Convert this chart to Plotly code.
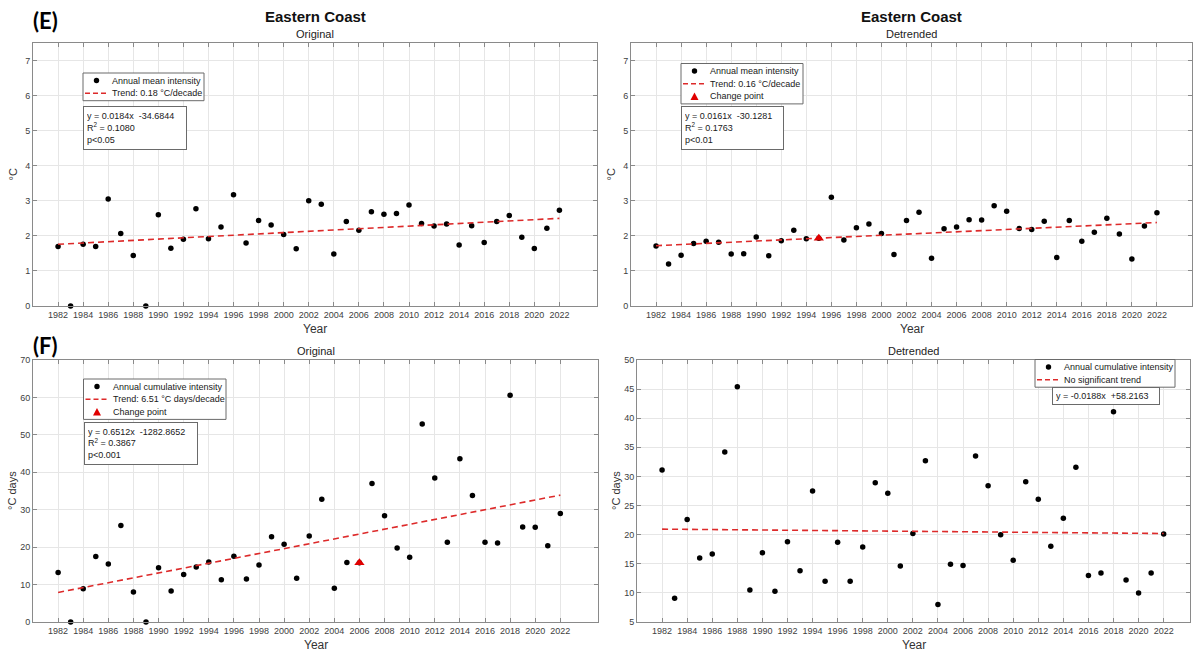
import plotly.graph_objects as go

# ---------------- data ----------------
years = list(range(1982, 2023))

mean_orig = [1.70, 0.00, 1.76, 1.70, 3.05, 2.07, 1.44, 0.00, 2.60, 1.65,
             1.90, 2.77, 1.92, 2.25, 3.17, 1.80, 2.44, 2.31, 2.04, 1.63,
             3.00, 2.90, 1.48, 2.41, 2.16, 2.69, 2.62, 2.64, 2.88, 2.35,
             2.28, 2.34, 1.74, 2.29, 1.81, 2.41, 2.58, 1.96, 1.64, 2.22, 2.73]

mean_detr = [1.71, 1.20, 1.45, 1.78, 1.85, 1.82, 1.48, 1.49, 1.97, 1.43,
             1.86, 2.16, 1.92, 1.93, 3.10, 1.88, 2.23, 2.34, 2.07, 1.47,
             2.44, 2.67, 1.36, 2.20, 2.25, 2.46, 2.45, 2.86, 2.70, 2.21,
             2.18, 2.42, 1.38, 2.44, 1.85, 2.10, 2.50, 2.05, 1.34, 2.28, 2.66]

cum_orig = [13.2, 0.0, 8.9, 17.5, 15.5, 25.8, 8.0, 0.0, 14.5, 8.3,
            12.7, 14.7, 16.0, 11.3, 17.6, 11.5, 15.2, 22.8, 20.8, 11.7,
            23.0, 32.8, 9.0, 15.9, 15.8, 37.0, 28.4, 19.8, 17.3, 52.9,
            38.5, 21.3, 43.6, 33.8, 21.3, 21.1, 60.6, 25.4, 25.3, 20.4, 29.0]

cum_detr = [31.1, 9.1, 22.6, 16.0, 16.7, 34.2, 45.4, 10.5, 16.9, 10.3,
            18.8, 13.8, 27.5, 12.0, 18.7, 12.0, 17.9, 28.9, 27.1, 14.6,
            20.2, 32.7, 8.0, 14.9, 14.7, 33.5, 28.4, 20.0, 15.6, 29.1,
            26.1, 18.0, 22.8, 31.6, 13.0, 13.4, 41.1, 12.2, 10.0, 13.4, 20.1]

# fitted trend lines (values at first and last year)
trend_years = [1982, 2022]
trend_mean_orig = [1.76, 2.50]
trend_mean_detr = [1.72, 2.38]
trend_cum_orig = [7.9, 33.9]
trend_cum_detr = [20.95, 20.20]

# change points
cp_mean_detr = (1995, 1.93)
cp_cum_orig = (2006, 15.8)

x_ticks = list(range(1982, 2023, 2))
y_ticks_mean = list(range(0, 8))
y_ticks_cum_orig = list(range(0, 71, 10))
y_ticks_cum_detr = list(range(5, 51, 5))

legend_names = {
    "mean_orig": ["Annual mean intensity", "Trend: 0.18 °C/decade"],
    "mean_detr": ["Annual mean intensity", "Trend: 0.16 °C/decade", "Change point"],
    "cum_orig": ["Annual cumulative intensity", "Trend: 6.51 °C days/decade", "Change point"],
    "cum_detr": ["Annual cumulative intensity", "No significant trend"],
}
stats_text = {
    "mean_orig": "y = 0.0184x  -34.6844<br>R<sup>2</sup> = 0.1080<br>p&lt;0.05",
    "mean_detr": "y = 0.0161x  -30.1281<br>R<sup>2</sup> = 0.1763<br>p&lt;0.01",
    "cum_orig": "y = 0.6512x  -1282.8652<br>R<sup>2</sup> = 0.3867<br>p&lt;0.001",
    "cum_detr": "y = -0.0188x  +58.2163",
}

# ---------------- layout helpers ----------------
W, H = 1196, 651
FONT = "Liberation Sans, Arial, sans-serif"
RED = "#dd2a2a"
CPRED = "#e00000"
GRID = "#e6e6e6"
AXC = "#8a8a8a"
TXT = "#404040"
BOXC = "#6a6a6a"


def px(x):
    return x / W


def py(y):
    return 1 - y / H


panels = [
    dict(key="mean_orig", xp=(33, 597), yp=(43, 306), xr=(1980, 2025), yr=(0, 7.5),
         yt=y_ticks_mean, data=mean_orig, trend=trend_mean_orig, cp=None,
         leg=(83, 204, 73), stats=(83, 187, 106, 36), ytitle="°C"),
    dict(key="mean_detr", xp=(631, 1192), yp=(43, 306), xr=(1980, 2024.8), yr=(0, 7.5),
         yt=y_ticks_mean, data=mean_detr, trend=trend_mean_detr, cp=cp_mean_detr,
         leg=(681, 803, 63.5), stats=(681, 784, 106, 36), ytitle="°C"),
    dict(key="cum_orig", xp=(33, 598), yp=(360, 622), xr=(1980, 2025), yr=(0, 70),
         yt=y_ticks_cum_orig, data=cum_orig, trend=trend_cum_orig, cp=cp_cum_orig,
         leg=(83.5, 226, 379), stats=(83.5, 197, 421.5, 35), ytitle="°C days"),
    dict(key="cum_detr", xp=(637, 1190), yp=(360, 622), xr=(1980, 2024.1), yr=(5, 50),
         yt=y_ticks_cum_detr, data=cum_detr, trend=trend_cum_detr, cp=None,
         leg=(1035, 1175, 359.5), stats=(1051.5, 1159, 387, 10), ytitle="°C days"),
]

fig = go.Figure()
layout = dict(
    width=W, height=H,
    margin=dict(l=0, r=0, t=0, b=0, autoexpand=False),
    paper_bgcolor="white", plot_bgcolor="white",
    showlegend=False,
    font=dict(family=FONT, size=9, color=TXT),
)
annotations = []
shapes = []
ITEM_H = 12.7

for i, p in enumerate(panels):
    n = "" if i == 0 else str(i + 1)
    xa, ya = "x" + n, "y" + n
    names = legend_names[p["key"]]

    fig.add_trace(go.Scatter(
        x=years, y=p["data"], mode="markers", xaxis=xa, yaxis=ya,
        marker=dict(color="black", size=5.5, symbol="circle"),
        name=names[0], cliponaxis=False,
    ))
    fig.add_trace(go.Scatter(
        x=trend_years, y=p["trend"], mode="lines", xaxis=xa, yaxis=ya,
        line=dict(color=RED, width=1.6, dash="6px,4px"),
        name=names[1],
    ))
    if p["cp"] is not None:
        fig.add_trace(go.Scatter(
            x=[p["cp"][0]], y=[p["cp"][1]], mode="markers", xaxis=xa, yaxis=ya,
            marker=dict(color=CPRED, size=9, symbol="triangle-up"),
            name=names[2], cliponaxis=False,
        ))

    axis_common = dict(
        showgrid=True, gridcolor=GRID, gridwidth=1,
        showline=True, linecolor=AXC, linewidth=1, mirror="ticks",
        ticks="inside", ticklen=4, tickcolor=AXC, tickwidth=1,
        zeroline=False, tickfont=dict(size=9, color=TXT, family=FONT),
    )
    layout["xaxis" + n] = dict(
        axis_common, domain=[px(p["xp"][0]), px(p["xp"][1])],
        range=list(p["xr"]), tickvals=x_ticks, anchor=ya,
    )
    layout["yaxis" + n] = dict(
        axis_common, domain=[py(p["yp"][1]), py(p["yp"][0])],
        range=list(p["yr"]), tickvals=p["yt"], anchor=xa,
    )

    # ----- legend box (framed key) -----
    l0, l1, ltop = p["leg"]
    n_items = len(names)
    lbot = ltop + 7.5 + ITEM_H * (n_items - 1) + 7.5
    shapes.append(dict(type="rect", xref="paper", yref="paper",
                       x0=px(l0), x1=px(l1), y0=py(lbot), y1=py(ltop),
                       fillcolor="white", line=dict(color=BOXC, width=1), layer="above"))
    for k, name in enumerate(names):
        iy = ltop + 7.5 + ITEM_H * k
        cx = l0 + 13.5
        if k == 0:
            shapes.append(dict(type="circle", xref="paper", yref="paper",
                               x0=px(cx - 2.7), x1=px(cx + 2.7), y0=py(iy + 2.7), y1=py(iy - 2.7),
                               fillcolor="black", line=dict(width=0), layer="above"))
        elif k == 1:
            shapes.append(dict(type="line", xref="paper", yref="paper",
                               x0=px(l0 + 2), x1=px(l0 + 26), y0=py(iy), y1=py(iy),
                               line=dict(color=RED, width=1.6, dash="5px,3px"), layer="above"))
        else:
            path = "M {:.5f},{:.5f} L {:.5f},{:.5f} L {:.5f},{:.5f} Z".format(
                px(cx - 4), py(iy + 3.5), px(cx + 4), py(iy + 3.5), px(cx), py(iy - 4))
            shapes.append(dict(type="path", xref="paper", yref="paper", path=path,
                               fillcolor=CPRED, line=dict(width=0), layer="above"))
        annotations.append(dict(
            x=px(l0 + 27), y=py(iy), xref="paper", yref="paper", xanchor="left", yanchor="middle",
            text=name, showarrow=False, font=dict(size=9, color="#202020", family=FONT),
        ))

    # ----- statistics box -----
    s0, s1, stop, sh = p["stats"]
    annotations.append(dict(
        x=px(s0), y=py(stop), xref="paper", yref="paper", xanchor="left", yanchor="top",
        text=stats_text[p["key"]], showarrow=False, align="left", valign="middle",
        width=s1 - s0 - 8, height=sh, font=dict(size=9, color="#202020", family=FONT),
        bgcolor="white", bordercolor=BOXC, borderwidth=1, borderpad=3,
    ))

    cxp = (p["xp"][0] + p["xp"][1]) / 2
    annotations.append(dict(
        x=px(cxp), y=py(p["yp"][1] + 23), xref="paper", yref="paper",
        text="Year", showarrow=False, font=dict(size=12, color="#333333", family=FONT),
        xanchor="center", yanchor="middle",
    ))
    annotations.append(dict(
        x=px(p["xp"][0] - 21), y=py((p["yp"][0] + p["yp"][1]) / 2), xref="paper", yref="paper",
        text=p["ytitle"], showarrow=False, textangle=-90,
        font=dict(size=11, color="#333333", family=FONT),
        xanchor="center", yanchor="middle",
    ))
    annotations.append(dict(
        x=px(cxp), y=py(p["yp"][0] - 9), xref="paper", yref="paper",
        text="Original" if "orig" in p["key"] else "Detrended", showarrow=False,
        font=dict(size=11, color="#222222", family=FONT),
        xanchor="center", yanchor="middle",
    ))
    if "mean" in p["key"]:
        annotations.append(dict(
            x=px(cxp), y=py(17), xref="paper", yref="paper",
            text="<b>Eastern Coast</b>", showarrow=False,
            font=dict(size=15, color="#111111", family=FONT),
            xanchor="center", yanchor="middle",
        ))

annotations.append(dict(x=px(31), y=py(21), xref="paper", yref="paper", text="<b>(E)</b>",
                        showarrow=False, xanchor="left", yanchor="middle",
                        font=dict(size=22, color="black", family="Lato, sans-serif")))
annotations.append(dict(x=px(31), y=py(345), xref="paper", yref="paper", text="<b>(F)</b>",
                        showarrow=False, xanchor="left", yanchor="middle",
                        font=dict(size=22, color="black", family="Lato, sans-serif")))

layout["annotations"] = annotations
layout["shapes"] = shapes
fig.update_layout(**layout)
fig.write_html("out.html")
